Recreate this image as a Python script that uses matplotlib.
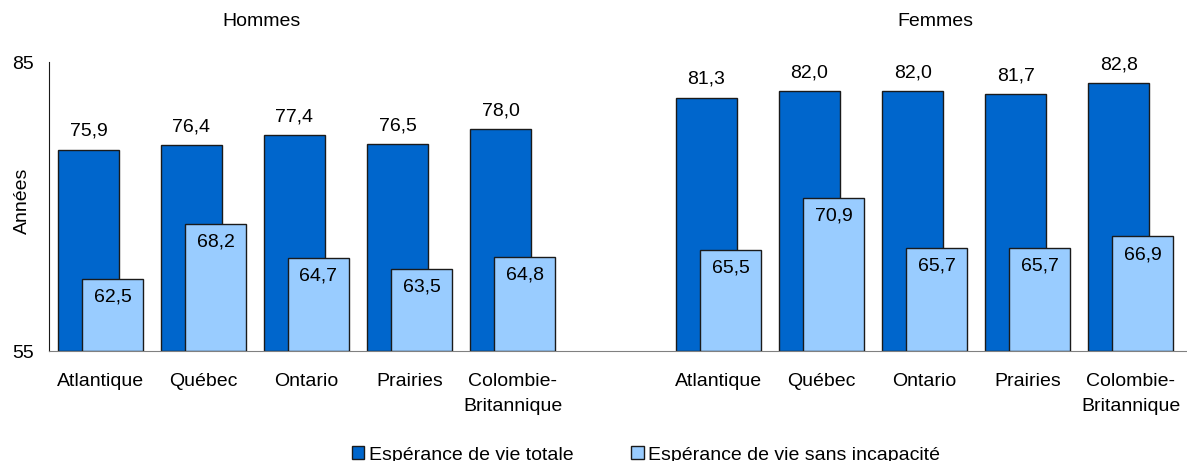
import numpy as np
import matplotlib.pyplot as plt

plt.rcParams['font.family'] = ['Liberation Sans', 'DejaVu Sans']

regions = ['Atlantique', 'Québec', 'Ontario', 'Prairies', 'Colombie-\nBritannique']
hommes_total = [75.9, 76.4, 77.4, 76.5, 78.0]
hommes_sans = [62.5, 68.2, 64.7, 63.5, 64.8]
femmes_total = [81.3, 82.0, 82.0, 81.7, 82.8]
femmes_sans = [65.5, 70.9, 65.7, 65.7, 66.9]
groups = ['Hommes', 'Femmes']
legend_labels = ['Espérance de vie totale', 'Espérance de vie sans incapacité']

dark = '#0066CC'
light = '#99CCFF'
fs = 14

total = hommes_total + femmes_total
sans = hommes_sans + femmes_sans
x = np.array(list(range(5)) + list(range(6, 11)), dtype=float)
w = 0.592
off = 0.233

fig = plt.figure(figsize=(11.87, 4.61), dpi=100)
ax = fig.add_axes([49 / 1187, 110 / 461, 1138 / 1187, 289 / 461])

b1 = ax.bar(x, np.array(total) - 55, bottom=55, width=w, align='edge',
            color=dark, edgecolor='#1a1a1a', linewidth=1, label=legend_labels[0], zorder=2)
b2 = ax.bar(x + off, np.array(sans) - 55, bottom=55, width=w, align='edge',
            color=light, edgecolor='#1a1a1a', linewidth=1, label=legend_labels[1], zorder=3)

for xi, v in zip(x, total):
    ax.annotate(f'{v:.1f}'.replace('.', ','), (xi + w / 2, v), xytext=(0, 7),
                textcoords='offset points', ha='center', va='bottom', fontsize=fs)
for xi, v in zip(x, sans):
    ax.annotate(f'{v:.1f}'.replace('.', ','), (xi + off + w / 2, v), xytext=(0, -7),
                textcoords='offset points', ha='center', va='top', fontsize=fs)

ax.set_xlim(-0.087, 10.96)
ax.set_ylim(55, 85)
ax.set_yticks([55, 85])
ax.set_yticklabels(['55', '85'], fontsize=fs)
ax.tick_params(axis='y', length=0, pad=11)
ax.set_xticks(x + (off + w) / 2)
ax.set_xticklabels(regions * 2, fontsize=fs, linespacing=1.6)
ax.tick_params(axis='x', length=0, pad=16)

for s in ['top', 'right']:
    ax.spines[s].set_visible(False)
ax.spines['bottom'].set_color('#808080')
ax.spines['left'].set_color('#1a1a1a')

fig.text(22 / 1187, 1 - 201 / 461, 'Années', rotation=90, ha='center', va='center', fontsize=fs)
fig.text(262 / 1187, 1 - 22 / 461, groups[0], ha='center', va='center', fontsize=fs)
fig.text(935 / 1187, 1 - 22 / 461, groups[1], ha='center', va='center', fontsize=fs)

fig.legend(handles=[b1, b2], loc='center', bbox_to_anchor=(646 / 1187, 1 - 455 / 461),
           ncol=2, frameon=False, fontsize=fs, handlelength=0.62, handleheight=0.62,
           handletextpad=0.25, columnspacing=3.0, borderpad=0)

fig.savefig('out.png', dpi=100)
